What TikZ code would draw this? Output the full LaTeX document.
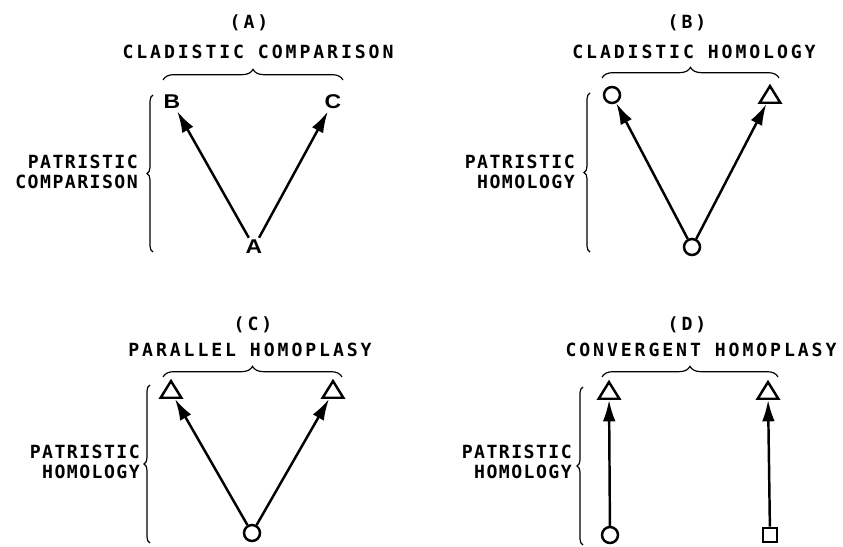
\documentclass[tikz,border=0pt]{standalone}
\usepackage{fontspec}
\setmainfont{Liberation Sans}
\newfontfamily\headfont[LetterSpace=16]{DejaVu Sans Mono}
\newfontfamily\sidefont[LetterSpace=8]{DejaVu Sans Mono}
\newfontfamily\letfont[FakeStretch=1.15]{Liberation Sans}
\usetikzlibrary{arrows.meta,shapes.geometric,decorations.pathreplacing}

\begin{document}
\begin{tikzpicture}[x=0.3mm, y=-0.3mm, line width=2.1pt,
  head/.style={font=\headfont\fontsize{15.5}{18}\selectfont\bfseries, inner sep=0pt},
  side/.style={font=\sidefont\fontsize{15.5}{17}\selectfont\bfseries, align=right,
               anchor=east, inner sep=0pt},
  let/.style={font=\letfont\fontsize{17}{18}\selectfont\bfseries, inner sep=1pt},
  circ/.style={draw, circle, minimum size=4.8mm, inner sep=0pt},
  tri/.style={draw, isosceles triangle, isosceles triangle stretches,
              shape border rotate=90, minimum width=6.2mm, minimum height=5.0mm,
              inner sep=0pt},
  sq/.style={draw, rectangle, minimum size=4.3mm, inner sep=0pt},
  a/.style={-{Latex[length=6.4mm,width=3.8mm]}},
  tbrace/.style={decorate, decoration={brace, amplitude=3.2mm}, line width=1pt},
  lbrace/.style={decorate, decoration={brace, amplitude=1.8mm}, line width=1pt}]

  \useasboundingbox (0,0) rectangle (843,547);

  % (A)
  \node[head] (ta)  at (249,23) {(A)};
  \node[head] (cla) at (258,52) {CLADISTIC COMPARISON};
  \node[side] (pa)  at (139,172) {PATRISTIC\\COMPARISON};
  \node[let]  (b)   at (172,102) {B};
  \node[let]  (c)   at (333,102) {C};
  \node[let]  (aa)  at (254,247) {A};
  \draw[tbrace] (163,80) -- (343,80);
  \draw[lbrace] (153,252) -- (153,95);
  \draw[a] (aa) -- (b);
  \draw[a] (aa) -- (c);

  % (B)
  \node[head] (tb)  at (687,23) {(B)};
  \node[head] (clb) at (694,52) {CLADISTIC HOMOLOGY};
  \node[side] (pb)  at (576,172) {PATRISTIC\\HOMOLOGY};
  \node[circ] (b1)  at (612,95) {};
  \node[tri]  (b2)  at (770,97) {};
  \node[circ] (b0)  at (692,247) {};
  \draw[tbrace] (602,78) -- (779,78);
  \draw[lbrace] (590,252) -- (590,93);
  \draw[a] (b0) -- (b1);
  \draw[a] (b0) -- (b2);

  % (C)
  \node[head] (tc)  at (253,325) {(C)};
  \node[head] (clc) at (250,350) {PARALLEL HOMOPLASY};
  \node[side] (pc)  at (141,462) {PATRISTIC\\HOMOLOGY};
  \node[tri]  (c1)  at (171,392) {};
  \node[tri]  (c2)  at (333,392) {};
  \node[circ] (c0)  at (252,533) {};
  \draw[tbrace] (163,377) -- (342,377);
  \draw[lbrace] (150,543) -- (150,385);
  \draw[a] (c0) -- (c1);
  \draw[a] (c0) -- (c2);

  % (D)
  \node[head] (td)  at (687,325) {(D)};
  \node[head] (cld) at (701,350) {CONVERGENT HOMOPLASY};
  \node[side] (pd)  at (573,462) {PATRISTIC\\HOMOLOGY};
  \node[tri]  (d1)  at (609,393) {};
  \node[tri]  (d2)  at (768,393) {};
  \node[circ] (d0)  at (610,535) {};
  \node[sq]   (d3)  at (770,535) {};
  \draw[tbrace] (602,377) -- (778,377);
  \draw[lbrace] (583,545) -- (583,387);
  \draw[a] (d0) -- (d1);
  \draw[a] (d3) -- (d2);

\end{tikzpicture}
\end{document}
